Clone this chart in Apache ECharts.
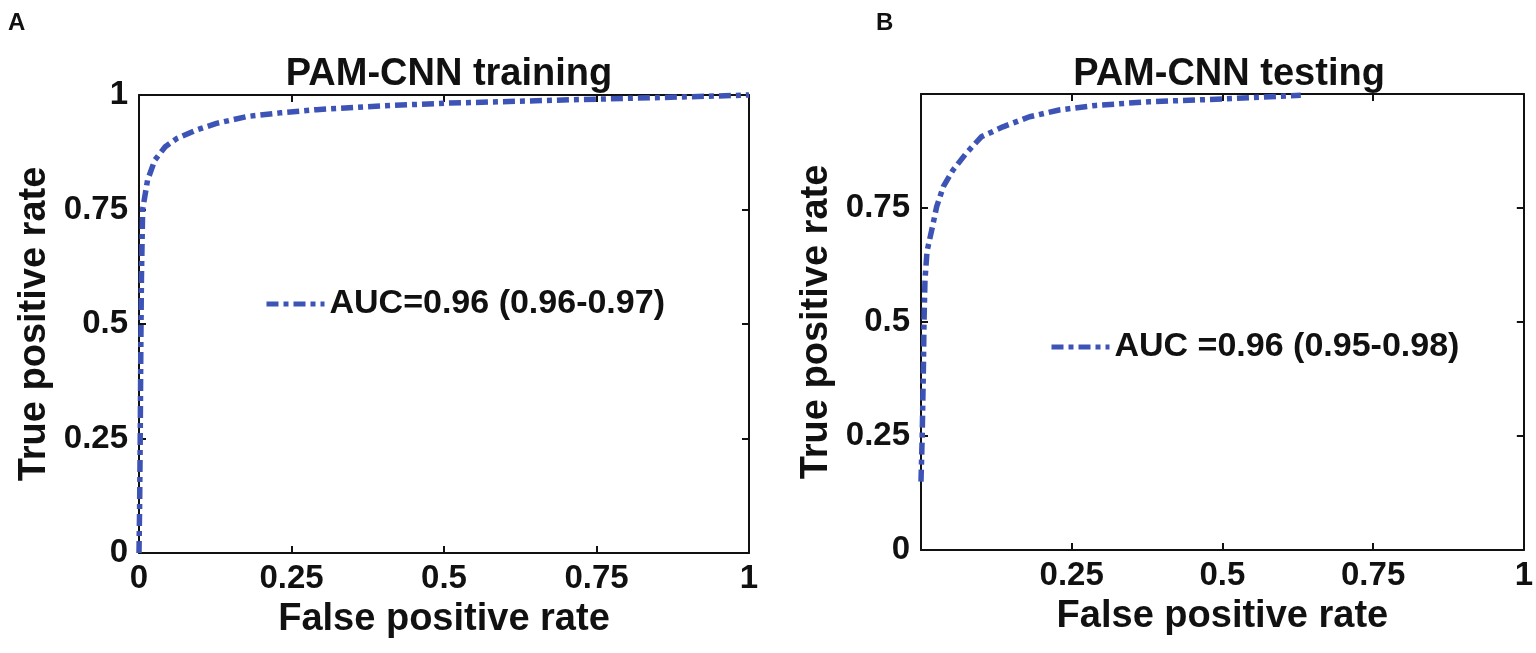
<!DOCTYPE html>
<html>
<head>
<meta charset="utf-8">
<script src="https://cdn.jsdelivr.net/npm/echarts@6/dist/echarts.min.js"></script>
<style>html,body{margin:0;padding:0;background:#fff;}#c{width:1536px;height:653px;}</style>
</head>
<body>
<div id="c"></div>
<script>
const trainFPR = [0, 0.001, 0.002, 0.003, 0.004, 0.006, 0.014, 0.026, 0.043, 0.062, 0.095, 0.127, 0.177, 0.231, 0.291, 0.395, 0.5, 0.75, 0.9, 1];
const trainTPR = [0, 0.10, 0.25, 0.45, 0.60, 0.75, 0.814, 0.858, 0.887, 0.905, 0.924, 0.938, 0.953, 0.961, 0.968, 0.976, 0.982, 0.991, 0.996, 1];
const testFPR = [0, 0.002, 0.004, 0.005, 0.0066, 0.010, 0.019, 0.026, 0.037, 0.053, 0.075, 0.100, 0.136, 0.180, 0.229, 0.290, 0.378, 0.5, 0.63];
const testTPR = [0.15, 0.25, 0.40, 0.50, 0.592, 0.655, 0.709, 0.753, 0.797, 0.833, 0.870, 0.906, 0.928, 0.950, 0.965, 0.975, 0.983, 0.989, 0.997];
const tickValues = [0, 0.25, 0.5, 0.75, 1];
const titles = ['PAM-CNN training', 'PAM-CNN testing'];
const panelLabels = ['A', 'B'];
const legendNames = ['AUC=0.96 (0.96-0.97)', 'AUC =0.96 (0.95-0.98)'];
const xName = 'False positive rate';
const yName = 'True positive rate';

const FONT = '"Liberation Sans", Arial, sans-serif';
const BLUE = '#3D54B6';
const TICK_FS = 33;
const NAME_FS = 38;
const DASH = [12, 5, 5, 5];
const zip = (a, b) => a.map((v, i) => [v, b[i]]);

const grids = [
  {left: 139, top: 95, width: 610, height: 458},
  {left: 921, top: 94, width: 606, height: 456}
];

function labelFmt(hidden) {
  return v => (hidden !== null && Math.abs(v - hidden) < 1e-9) ? '' : String(tickValues.find(t => Math.abs(t - v) < 1e-9) ?? v);
}
function mainX(g, hidden) {
  return {
    type: 'value', gridIndex: g, min: 0, max: 1, interval: 0.25,
    name: xName, nameLocation: 'middle', nameGap: 48,
    nameTextStyle: {fontFamily: FONT, fontWeight: 'bold', fontSize: NAME_FS, color: '#111'},
    axisLine: {show: true, lineStyle: {color: '#111', width: 2}},
    axisTick: {show: true, inside: true, length: 7, lineStyle: {color: '#111', width: 2}},
    axisLabel: {show: true, margin: 9, fontFamily: FONT, fontWeight: 'bold', fontSize: TICK_FS, color: '#111',
      formatter: labelFmt(hidden)},
    splitLine: {show: false}
  };
}
function mainY(g, hidden) {
  return {
    type: 'value', gridIndex: g, min: 0, max: 1, interval: 0.25,
    name: yName, nameLocation: 'middle', nameGap: 85,
    nameTextStyle: {fontFamily: FONT, fontWeight: 'bold', fontSize: NAME_FS, color: '#111'},
    axisLine: {show: true, lineStyle: {color: '#111', width: 2}},
    axisTick: {show: true, inside: true, length: 7, lineStyle: {color: '#111', width: 2}},
    axisLabel: {show: true, margin: 11, fontFamily: FONT, fontWeight: 'bold', fontSize: TICK_FS, color: '#111',
      formatter: labelFmt(hidden)},
    splitLine: {show: false}
  };
}
function boxAxis(g, pos) {
  return {
    type: 'value', gridIndex: g, min: 0, max: 1, interval: 0.25, position: pos,
    axisLine: {show: true, onZero: false, lineStyle: {color: '#111', width: 2}},
    axisTick: {show: true, inside: true, length: 7, lineStyle: {color: '#111', width: 2}},
    axisLabel: {show: false},
    splitLine: {show: false}
  };
}
const titleStyle = {fontFamily: FONT, fontWeight: 'bold', fontSize: NAME_FS, color: '#111'};
const panelStyle = {fontFamily: FONT, fontWeight: 'bold', fontSize: 24, color: '#111'};
const legendCommon = {
  itemWidth: 58, itemHeight: 14, itemGap: 6,
  itemStyle: {opacity: 0, borderWidth: 0},
  lineStyle: {width: 5, type: DASH, color: BLUE},
  textStyle: {fontFamily: FONT, fontWeight: 'bold', fontSize: 34, color: '#111'}
};

const chart = echarts.init(document.getElementById('c'));
chart.setOption({
  backgroundColor: '#fff',
  animation: false,
  title: [
    {text: titles[0], left: 444, top: 51, textAlign: 'center', textStyle: titleStyle},
    {text: titles[1], left: 1224, top: 51, textAlign: 'center', textStyle: titleStyle},
    {text: panelLabels[0], left: 3, top: 6, textStyle: panelStyle},
    {text: panelLabels[1], left: 871, top: 6, textStyle: panelStyle}
  ],
  grid: grids,
  xAxis: [mainX(0, null), mainX(1, 0), boxAxis(0, 'top'), boxAxis(1, 'top')],
  yAxis: [mainY(0, null), mainY(1, 1), boxAxis(0, 'right'), boxAxis(1, 'right')],
  legend: [
    Object.assign({data: [legendNames[0]], left: 259, top: 282}, legendCommon),
    Object.assign({data: [legendNames[1]], left: 1044, top: 325}, legendCommon)
  ],
  series: [
    {name: legendNames[0], type: 'line', xAxisIndex: 0, yAxisIndex: 0, data: zip(trainFPR, trainTPR),
      showSymbol: false, symbol: 'none', clip: false, color: BLUE,
      lineStyle: {color: BLUE, width: 5.5, type: DASH}},
    {name: legendNames[1], type: 'line', xAxisIndex: 1, yAxisIndex: 1, data: zip(testFPR, testTPR),
      showSymbol: false, symbol: 'none', clip: false, color: BLUE,
      lineStyle: {color: BLUE, width: 5.5, type: DASH}}
  ]
});
</script>
</body>
</html>
